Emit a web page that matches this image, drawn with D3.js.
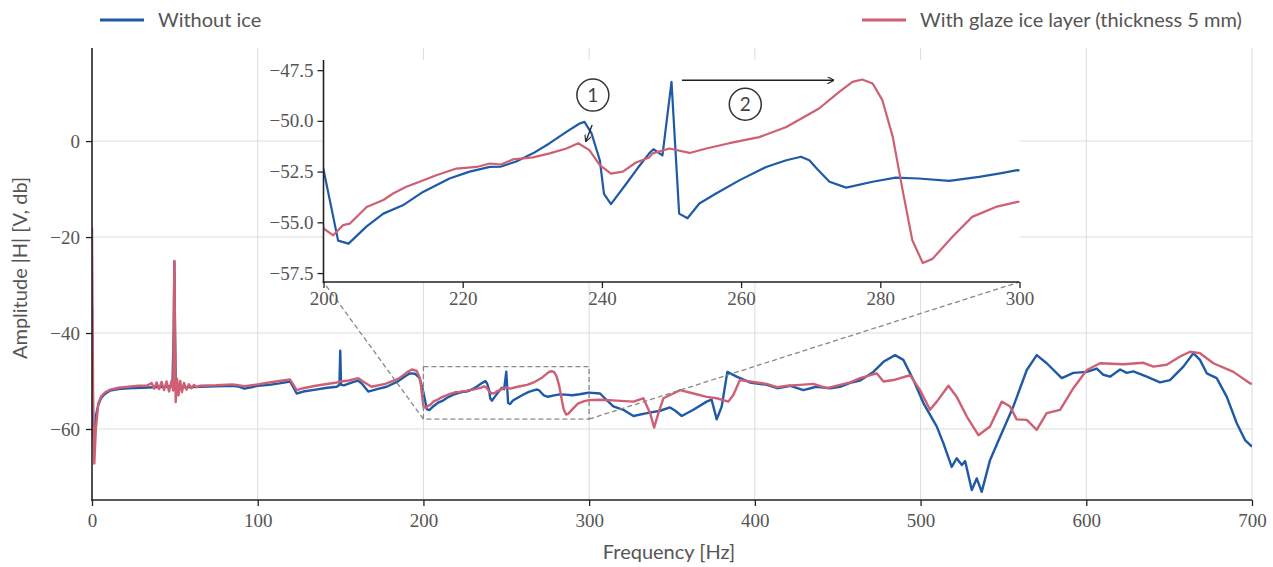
<!DOCTYPE html>
<html>
<head>
<meta charset="utf-8">
<script src="https://cdn.jsdelivr.net/npm/d3@7"></script>
<style>
  body { margin: 0; background: #fff; }
  .tick text { font-family: "Liberation Serif", serif; font-size: 19px; fill: #555; }
  .lbl { font-family: Lato, "Open Sans", sans-serif; fill: #555; }
</style>
</head>
<body>
<svg id="svg" width="1273" height="567"></svg>
<script>
// Frequenzgang ohne Eis / mit Glatteis
var freqBlue = [0, 0.7, 1.4, 2.5, 3.8, 5.5, 7.8, 11, 16, 22, 30, 38, 45, 48.5, 49.3, 49.7, 50.1, 50.6, 52, 57, 65, 75, 85, 89, 92, 96, 100,
  107, 113, 119.5, 121, 123.5, 127.5, 135, 142, 147.7, 149.3, 149.8, 150.3, 152, 157, 160.5, 163, 166.7, 172, 177.8, 184, 189, 192, 195, 197.5, 199,
  200, 202.1, 203.6, 206.2, 208.6, 211.4, 214.3, 218.1, 221, 223.9, 225.5, 227.7, 230.1, 232.5, 234.9, 236.8, 237.5, 238.5, 239.7, 240.3, 241.3,
  243.5, 245.2, 246.8, 247.4, 248.7, 250, 251.1, 252.3, 254, 256.4, 259.8, 263.6, 266.5, 268.6, 269.8, 271, 272.7, 275.1, 278.9, 282.2, 285.5,
  289.9, 294.2, 297, 299.7, 306.6, 310, 314.6, 320.6, 326.7, 334.8, 342.8, 348.8, 352, 355.9, 362.9, 370.9, 373.9, 377, 380, 383.4, 389, 397,
  407.2, 413.5, 421.5, 429.3, 437, 445.4, 451.4, 457.5, 463.5, 471.5, 477.6, 484.6, 489.6, 495.7, 501.7, 509.8, 513.8, 518.8, 521.8, 524.9,
  526.9, 530.9, 533.9, 536.9, 541.9, 548, 556, 564.1, 570.1, 576.1, 585.2, 592.2, 600.3, 606.3, 610.3, 614.3, 620.4, 624.4, 628.4, 636.5,
  644.5, 650.5, 658.6, 664.6, 668.6, 672.7, 678.7, 684.8, 690.8, 695.8, 700]
var ampBlue = [-35, -60, -63, -57, -55, -53.5, -52.7, -52, -51.7, -51.5, -51.4, -51.3, -51.2, -51, -40, -25.1, -40, -51.8, -51.3, -51.3, -51.2, -51.1, -51, -51.2, -51.6, -51.3, -51,
  -50.8, -50.5, -50.1, -51, -52.6, -52.2, -51.8, -51.4, -51.2, -50.8, -43.7, -50.8, -50.9, -50.3, -49.9, -50.6, -52.2, -51.7, -51.2, -50.2, -49, -48.4, -48.5, -49.3, -51,
  -52.4, -55.9, -56.05, -55.2, -54.57, -54.16, -53.5, -52.84, -52.5, -52.27, -52.25, -52, -51.6, -51.1, -50.54, -50.13, -50.05, -50.6, -51.94, -53.6, -54.1,
  -53.1, -52.3, -51.6, -51.4, -51.7, -48.08, -54.57, -54.8, -54.07, -53.58, -52.92, -52.27, -51.94, -51.77, -51.94, -52.4, -53, -53.29, -53, -52.8, -52.84,
  -52.96, -52.76, -52.6, -52.43, -52.6, -53.8, -55.3, -56, -57.3, -56.7, -56.2, -55.5, -56.2, -57.3, -56, -54.3, -53.9, -58, -55.3, -48.1, -49.1, -50.3,
  -50.8, -51.5, -51, -51.9, -51.2, -51.5, -51.2, -50.4, -49.9, -48.1, -46, -44.6, -45.6, -49.8, -54.6, -59.5, -63, -67.9, -66.1, -67.5,
  -66.7, -72.7, -70.3, -73.1, -66.5, -61.6, -55.3, -47.7, -44.6, -46.3, -49.4, -48.3, -48.1, -47.4, -48.7, -49.1, -47.6, -48.3, -48, -49.1,
  -50.3, -49.8, -47, -44.2, -45.6, -48.4, -49.4, -53.3, -58.8, -62.3, -63.7]

var freqRed = [0, 0.7, 1.4, 2.3, 3.8, 5.5, 7.8, 11, 16, 22, 28, 33, 36, 37.5, 39, 40.5, 42, 43.5, 45, 46.5, 48, 49, 49.7, 50.5, 51.3, 52.2, 53.2,
  54.3, 55.5, 57, 58.5, 60, 61.5, 63, 65, 75, 85, 92, 100, 107, 113, 119.5, 121, 123.5, 127.5, 135, 147.7, 150, 155, 160.7, 164, 168.7, 177,
  185, 190, 193, 196, 198, 199, 200, 201.4, 202.8, 203.8, 206.2, 208.6, 210, 211.9, 213.8, 216.2, 219.1, 222, 223.9, 225.5, 227.2, 230.1,
  232.5, 234.9, 236.6, 238.2, 239.7, 241.3, 243, 244.9, 246.8, 247.3, 249.7, 252.6, 255, 258.3, 262.6, 266.5, 271.2, 274.1, 276, 277.4,
  278.9, 280.3, 281.8, 283.2, 284.6, 286.1, 287.5, 290.4, 293.2, 296.6, 299.7, 306.6, 316.6, 326.7, 332.7, 336.8, 339.2, 341.8, 344.8,
  350.8, 354.9, 363, 370.9, 377, 384, 387, 391, 397, 407, 413.5, 419.5, 427.4, 435.3, 443.4, 451.4, 457.5, 463.5, 473.5, 477.6, 483.6,
  493.7, 499.7, 505.7, 509.8, 516.8, 521.8, 527.9, 534.9, 541.9, 549, 554, 558, 564.1, 570.1, 576.1, 584.2, 592.2, 600.3, 608.3, 622.4,
  634.5, 640.5, 648.5, 656.6, 662.6, 668.6, 676.7, 688.8, 698.9, 700]
var ampRed = [-18, -55, -67.2, -60, -54.7, -53.2, -52.4, -51.8, -51.4, -51.2, -51, -51, -50.4, -51.6, -50.3, -51.7, -50.2, -51.9, -50.1, -52.2, -50, -52, -25, -54.4, -49.5, -53, -50,
  -52.3, -50.4, -51.8, -50.7, -51.5, -50.8, -51.3, -51, -50.9, -50.7, -51.1, -50.7, -50.3, -50, -49.7, -50.5, -51.9, -51.5, -51, -50.3, -50.1, -49.9, -49.4, -50.2, -51.2, -50.6,
  -49.5, -48.2, -47.6, -47.9, -49.5, -52.5, -55.3, -55.64, -55.14, -55.06, -54.24, -53.9, -53.58, -53.25, -53, -52.68, -52.35, -52.27, -52.1, -52.15, -51.9, -51.8,
  -51.6, -51.36, -51.1, -51.44, -52.18, -52.6, -52.5, -52.05, -51.8, -51.6, -51.36, -51.58, -51.36, -51.1, -50.8, -50.3, -49.39, -48.57, -48.08, -47.96,
  -48.16, -48.98, -50.8, -53.4, -55.88, -57, -56.8, -55.7, -54.73, -54.24, -53.99, -53.9, -54.1, -54.3, -53.6, -56.7, -59.7, -56.7, -53.6,
  -52.6, -51.9, -52.6, -53.3, -53.6, -54.3, -52.9, -49.8, -50.1, -50.6, -51.3, -51, -50.8, -50.6, -51.5, -50.8, -50.3, -49.4, -48.4, -50.1, -49.8,
  -48.8, -51.9, -56, -54.3, -51, -53.3, -57.4, -61.3, -59.5, -54.3, -55.3, -58, -58.1, -60.2, -56.7, -56, -51.5, -47.7, -46.3, -46.5,
  -46.2, -47, -46.6, -44.9, -43.9, -44.2, -46.3, -48.1, -50.5, -50.6]

var xTicks = [0, 100, 200, 300, 400, 500, 600, 700]
var yTicks = [0, -20, -40, -60]
var insetXTicks = [200, 220, 240, 260, 280, 300]
var insetYTicks = [-47.5, -50, -52.5, -55, -57.5]

var blue = '#1f5aa6', red = '#cf5f73'

var svg = d3.select('#svg')

// Hauptachsen
var x = d3.scaleLinear().domain([0, 700]).range([92, 1252])
var y = d3.scaleLinear().domain([-74.8, 19.4]).range([500, 48])

// Zoom-Ausschnitt
var ix = d3.scaleLinear().domain([200, 300]).range([323.5, 1019.5])
var iy = d3.scaleLinear().domain([-57.94, -47.0]).range([282, 60])

var blueData = freqBlue.map(function(f, i) { return [f, ampBlue[i]] })
var redData = freqRed.map(function(f, i) { return [f, ampRed[i]] })

var defs = svg.append('defs')
defs.append('clipPath').attr('id', 'clipMain').append('rect')
    .attr('x', 92).attr('y', 48).attr('width', 1160).attr('height', 452)
defs.append('clipPath').attr('id', 'clipInset').append('rect')
    .attr('x', 323.5).attr('y', 60).attr('width', 696).attr('height', 222)
defs.append('marker').attr('id', 'arr').attr('viewBox', '0 0 10 10')
    .attr('refX', 9).attr('refY', 5).attr('markerWidth', 7).attr('markerHeight', 7)
    .attr('orient', 'auto').attr('markerUnits', 'userSpaceOnUse')
    .append('path').attr('d', 'M0,0 L10,5 L0,10').attr('fill', 'none').attr('stroke', '#222').attr('stroke-width', 1.6)

// Gitter
svg.append('g').selectAll('line.vg').data(xTicks.slice(1)).enter().append('line')
    .attr('x1', function(d) { return x(d) }).attr('x2', function(d) { return x(d) })
    .attr('y1', 48).attr('y2', 500)
    .style('stroke', '#dcdcdc').style('stroke-width', 1)
svg.append('g').selectAll('line.hg').data(yTicks).enter().append('line')
    .attr('x1', 92).attr('x2', 1252)
    .attr('y1', function(d) { return y(d) }).attr('y2', function(d) { return y(d) })
    .style('stroke', '#dcdcdc').style('stroke-width', 1)

var line = d3.line().x(function(d) { return x(d[0]) }).y(function(d) { return y(d[1]) })
var mainG = svg.append('g').attr('clip-path', 'url(#clipMain)')
mainG.append('path').attr('d', line(blueData)).attr('fill', 'none')
    .attr('stroke', blue).attr('stroke-width', 2.4).attr('stroke-linejoin', 'round')
mainG.append('path').attr('d', line(redData)).attr('fill', 'none')
    .attr('stroke', red).attr('stroke-width', 2.4).attr('stroke-linejoin', 'round')

// Achsen
svg.append('g').attr('transform', 'translate(0,500)')
    .call(d3.axisBottom(x).tickValues(xTicks).tickSize(6).tickPadding(8).tickFormat(d3.format('d')))
svg.append('g').attr('transform', 'translate(92,0)')
    .call(d3.axisLeft(y).tickValues(yTicks).tickSize(6).tickPadding(6).tickFormat(function(d) { return d3.format('d')(d).replace('-', '\u2212') }))
svg.selectAll('.domain').remove()
svg.selectAll('.tick line').attr('stroke', '#222').attr('stroke-width', 1.3)
svg.append('line').attr('x1', 92).attr('x2', 92).attr('y1', 48).attr('y2', 500.8).attr('stroke', '#222').attr('stroke-width', 1.6)
svg.append('line').attr('x1', 91.2).attr('x2', 1252).attr('y1', 500).attr('y2', 500).attr('stroke', '#222').attr('stroke-width', 1.6)

// Zoom-Rahmen und Verbindungslinien
var dash = '5,3'
svg.append('rect').attr('x', x(200)).attr('y', y(-47.0))
    .attr('width', x(300) - x(200)).attr('height', y(-57.94) - y(-47.0))
    .attr('fill', 'none').attr('stroke', '#888').attr('stroke-width', 1.3).attr('stroke-dasharray', dash)
svg.append('line').attr('x1', x(200)).attr('y1', y(-57.94)).attr('x2', ix(200)).attr('y2', iy(-57.94))
    .attr('stroke', '#888').attr('stroke-width', 1.3).attr('stroke-dasharray', dash)
svg.append('line').attr('x1', x(300)).attr('y1', y(-57.94)).attr('x2', ix(300)).attr('y2', iy(-57.94))
    .attr('stroke', '#888').attr('stroke-width', 1.3).attr('stroke-dasharray', dash)

// Inset
svg.append('rect').attr('x', 323.5).attr('y', 60).attr('width', 696).attr('height', 222).attr('fill', '#fff')
var iline = d3.line().x(function(d) { return ix(d[0]) }).y(function(d) { return iy(d[1]) })
var insetG = svg.append('g').attr('clip-path', 'url(#clipInset)')
insetG.append('path').attr('d', iline(blueData)).attr('fill', 'none')
    .attr('stroke', blue).attr('stroke-width', 2.2).attr('stroke-linejoin', 'round')
insetG.append('path').attr('d', iline(redData)).attr('fill', 'none')
    .attr('stroke', red).attr('stroke-width', 2.2).attr('stroke-linejoin', 'round')

var ixAxis = svg.append('g').attr('transform', 'translate(0,282)')
    .call(d3.axisBottom(ix).tickValues(insetXTicks).tickSize(6).tickPadding(4).tickFormat(d3.format('d')))
var iyAxis = svg.append('g').attr('transform', 'translate(323.5,0)')
    .call(d3.axisLeft(iy).tickValues(insetYTicks).tickSize(6).tickPadding(4).tickFormat(function(d) { return d3.format('.1f')(d).replace('-', '\u2212') }))
ixAxis.select('.domain').remove()
iyAxis.select('.domain').remove()
svg.selectAll('.tick line').attr('stroke', '#222').attr('stroke-width', 1.3)
svg.append('line').attr('x1', 323.5).attr('x2', 323.5).attr('y1', 60).attr('y2', 282.8).attr('stroke', '#222').attr('stroke-width', 1.6)
svg.append('line').attr('x1', 322.7).attr('x2', 1019.5).attr('y1', 282).attr('y2', 282).attr('stroke', '#222').attr('stroke-width', 1.6)

// Markierungen 1 und 2
function marker(cx, cy, t) {
    svg.append('circle').attr('cx', ix(cx)).attr('cy', iy(cy)).attr('r', 16)
        .attr('fill', 'none').attr('stroke', '#333').attr('stroke-width', 1.5)
    svg.append('text').attr('x', ix(cx)).attr('y', iy(cy) + 7).attr('text-anchor', 'middle')
        .attr('class', 'lbl').style('font-size', '19px').style('fill', '#444').text(t)
}
marker(238.7, -48.73, '1')
marker(260.6, -49.18, '2')
svg.append('line').attr('x1', ix(238.6)).attr('y1', iy(-50.2)).attr('x2', ix(237.7)).attr('y2', iy(-51.0))
    .attr('stroke', '#222').attr('stroke-width', 1.3).attr('marker-end', 'url(#arr)')
svg.append('line').attr('x1', ix(251.5)).attr('y1', iy(-48.0)).attr('x2', ix(273.3)).attr('y2', iy(-48.0))
    .attr('stroke', '#222').attr('stroke-width', 1.6).attr('marker-end', 'url(#arr)')

// Beschriftung
svg.append('text').attr('class', 'lbl').attr('x', 669).attr('y', 559).attr('text-anchor', 'middle')
    .style('font-size', '20px').text('Frequency [Hz]')
svg.append('text').attr('class', 'lbl').attr('transform', 'translate(27,268) rotate(-90)').attr('text-anchor', 'middle')
    .style('font-size', '20px').text('Amplitude |H| [V, db]')

// Legende
var legend = [['Without ice', blue, 100], ['With glaze ice layer (thickness 5 mm)', red, 862]]
legend.forEach(function(l) {
    svg.append('line').attr('x1', l[2]).attr('x2', l[2] + 44).attr('y1', 20).attr('y2', 20)
        .attr('stroke', l[1]).attr('stroke-width', 3)
    svg.append('text').attr('class', 'lbl').attr('x', l[2] + 58).attr('y', 27)
        .style('font-size', '20px').text(l[0])
})
</script>
</body>
</html>
